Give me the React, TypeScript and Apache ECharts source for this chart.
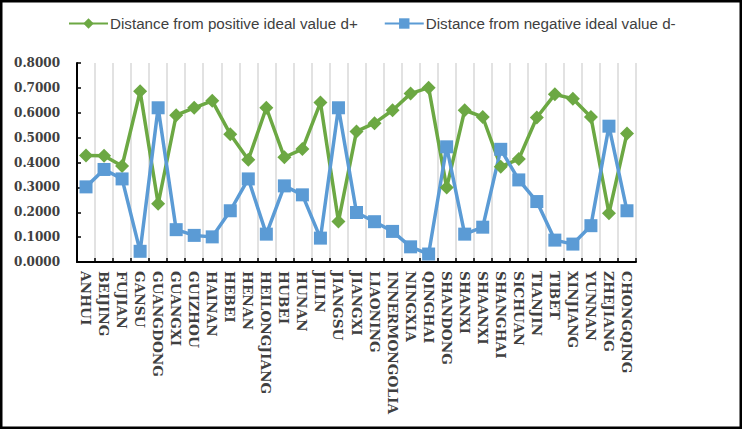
import React, { useEffect, useRef } from "react";
import * as echarts from "echarts";

const provinces = [
  "ANHUI", "BEIJING", "FUJIAN", "GANSU", "GUANGDONG", "GUANGXI", "GUIZHOU", "HAINAN",
  "HEBEI", "HENAN", "HEILONGJIANG", "HUBEI", "HUNAN", "JILIN", "JIANGSU", "JIANGXI",
  "LIAONING", "INNERMONGOLIA", "NINGXIA", "QINGHAI", "SHANDONG", "SHANXI", "SHAANXI",
  "SHANGHAI", "SICHUAN", "TIANJIN", "TIBET", "XINJIANG", "YUNNAN", "ZHEJIANG", "CHONGQING",
];

const dPlus = [
  0.428, 0.427, 0.386, 0.686, 0.234, 0.590, 0.620, 0.648, 0.514, 0.411, 0.620,
  0.421, 0.454, 0.641, 0.163, 0.525, 0.558, 0.610, 0.677, 0.701, 0.299, 0.610,
  0.583, 0.383, 0.414, 0.581, 0.674, 0.656, 0.583, 0.196, 0.517,
];

const dMinus = [
  0.302, 0.372, 0.334, 0.043, 0.620, 0.130, 0.107, 0.101, 0.206, 0.334, 0.112,
  0.306, 0.270, 0.096, 0.620, 0.199, 0.162, 0.123, 0.061, 0.032, 0.463, 0.112,
  0.140, 0.453, 0.330, 0.243, 0.088, 0.072, 0.146, 0.546, 0.206,
];

const seriesNames = [
  "Distance from positive ideal value d+",
  "Distance from negative ideal value d-",
];

const GREEN = "#6ca843";
const BLUE = "#5b9bd5";

export default function App() {
  const ref = useRef<HTMLDivElement>(null);

  useEffect(() => {
    document.body.style.margin = "0";
    const chart = echarts.init(ref.current!, undefined, { renderer: "svg" });
    chart.setOption({
      animation: false,
      backgroundColor: "#ffffff",
      graphic: [
        {
          type: "rect",
          shape: { x: 1.25, y: 1.25, width: 739.5, height: 426.5 },
          style: { fill: "none", stroke: "#000000", lineWidth: 2.5 },
          silent: true,
          z: 100,
        },
      ],
      legend: {
        left: 68,
        top: 16,
        padding: 0,
        itemWidth: 39,
        itemHeight: 13,
        itemGap: 26,
        textStyle: {
          fontFamily: "'Liberation Sans', sans-serif",
          fontSize: 15.2,
          color: "#404040",
          padding: [0, 0, 0, -3],
        },
        data: seriesNames,
      },
      grid: { left: 77, right: 106, top: 63, bottom: 167, containLabel: false },
      xAxis: {
        type: "category",
        data: provinces,
        boundaryGap: true,
        axisLine: { lineStyle: { color: "#000000", width: 2 } },
        axisTick: { show: true, inside: true, length: 4, lineStyle: { color: "#000000", width: 1.5 } },
        splitLine: { show: true, lineStyle: { color: "#d9d9d9", width: 1.5 } },
        axisLabel: {
          rotate: -90,
          interval: 0,
          margin: 9,
          fontFamily: "'DejaVu Serif', serif",
          fontWeight: "bold",
          fontSize: 13.7,
          color: "#404040",
        },
      },
      yAxis: {
        type: "value",
        min: 0,
        max: 0.8,
        interval: 0.1,
        axisLine: { show: true, lineStyle: { color: "#000000", width: 2 } },
        axisTick: { show: true, inside: true, length: 4, lineStyle: { color: "#000000", width: 1.5 } },
        splitLine: { show: false },
        axisLabel: {
          margin: 17,
          fontFamily: "'DejaVu Serif', serif",
          fontWeight: "bold",
          fontSize: 12,
          color: "#404040",
          formatter: (v: number) => v.toFixed(4),
        },
      },
      series: [
        {
          name: seriesNames[0],
          type: "line",
          data: dPlus,
          symbol: "diamond",
          symbolSize: 14,
          lineStyle: { color: GREEN, width: 3.5 },
          itemStyle: { color: GREEN },
        },
        {
          name: seriesNames[1],
          type: "line",
          data: dMinus,
          symbol: "rect",
          symbolSize: 13,
          lineStyle: { color: BLUE, width: 3.5 },
          itemStyle: { color: BLUE },
        },
      ],
    });
    return () => chart.dispose();
  }, []);

  return <div ref={ref} style={{ width: 742, height: 429 }} />;
}
